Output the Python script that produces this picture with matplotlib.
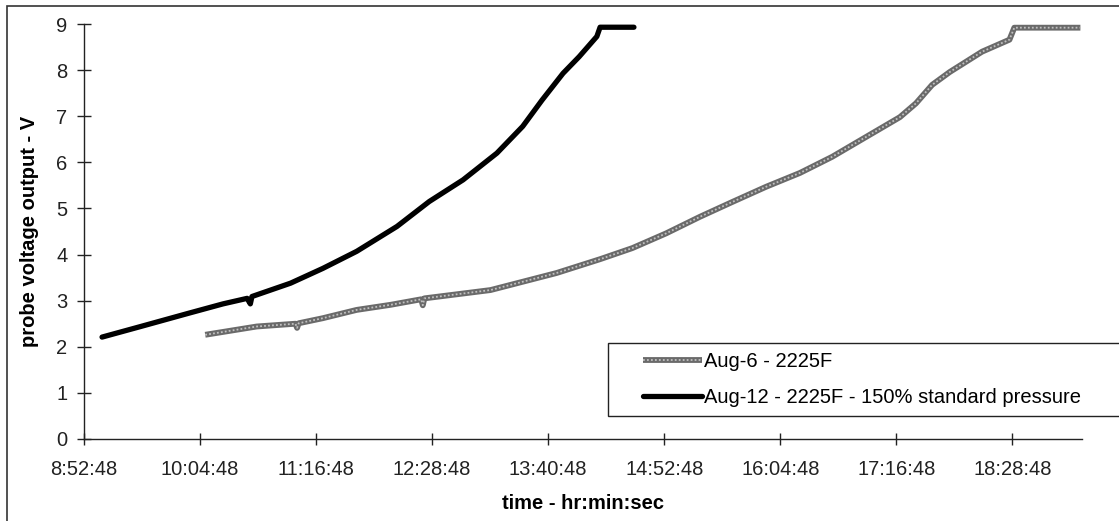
import numpy as np
import matplotlib
matplotlib.use("Agg")
from matplotlib import pyplot as plt
from matplotlib.patches import Rectangle
from matplotlib.ticker import FuncFormatter

plt.rcParams['font.family'] = ['Liberation Sans', 'DejaVu Sans']

# Aug-12 run (150% standard pressure), time of day and probe volts
Aug12_Time = ["9:04", "9:28", "9:58", "10:19", "10:34", "10:36", "10:37", "11:01",
              "11:21", "11:42", "12:07", "12:27", "12:48", "13:09", "13:25", "13:37",
              "13:50", "14:00", "14:11", "14:13", "14:34"]
Aug12_Volt = [2.21, 2.44, 2.73, 2.93, 3.05, 2.93, 3.09, 3.38,
              3.70, 4.07, 4.61, 5.15, 5.62, 6.20, 6.78, 7.35,
              7.93, 8.29, 8.73, 8.93, 8.93]

# Aug-6 run
Aug6_Time = ["10:08", "10:40", "11:04", "11:05", "11:06", "11:21", "11:42", "12:03",
             "12:22", "12:23", "12:24", "13:05", "13:46", "14:13", "14:33", "14:54",
             "15:15", "15:35", "15:56", "16:17", "16:37", "16:58", "17:19", "17:29",
             "17:39", "17:50", "18:00", "18:10", "18:27", "18:30", "19:11"]
Aug6_Volt = [2.26, 2.44, 2.50, 2.41, 2.51, 2.62, 2.80, 2.91,
             3.03, 2.90, 3.05, 3.23, 3.60, 3.90, 4.14, 4.46,
             4.82, 5.14, 5.47, 5.77, 6.12, 6.55, 6.98, 7.28,
             7.68, 7.96, 8.18, 8.40, 8.66, 8.92, 8.92]

Y_Ticks = list(range(0, 10))
X_Start = 8 + 52.8 / 60      # 8:52:48
X_Step = 1.2                 # 72 min
X_End = 19.2                 # 19:12:00


def To_Hours(Times):
    Out = []
    for T in Times:
        H, M = T.split(":")
        Out.append(int(H) + int(M) / 60)
    return np.array(Out)


def Hms(V, Pos=None):
    S = int(round(V * 3600))
    return "%d:%02d:%02d" % (S // 3600, (S % 3600) // 60, S % 60)


Fig = plt.figure(figsize=(11.19, 5.21), dpi=100)
Ax = Fig.add_axes([84 / 1119, 1 - 439 / 521, (1082 - 84) / 1119, (439 - 24) / 521])

# outer chart frame
Fig.patches.append(Rectangle((7 / 1119, -0.01), 1.02, 1 - 6 / 521 + 0.01,
                             transform=Fig.transFigure, fill=False,
                             edgecolor='#333333', lw=1.2))

G1, = Ax.plot(To_Hours(Aug6_Time), Aug6_Volt, color='#6a6a6a', lw=4.2,
              solid_capstyle='butt', solid_joinstyle='round', zorder=2)
G2, = Ax.plot(To_Hours(Aug6_Time), Aug6_Volt, color='#c0c0c0', lw=1.3,
              ls=(0, (1, 1.2)), zorder=3)
B1, = Ax.plot(To_Hours(Aug12_Time), Aug12_Volt, color='black', lw=3.8,
              solid_capstyle='round', solid_joinstyle='round', zorder=4)

Ax.set_xlim(X_Start, X_End)
Ax.set_ylim(0, 9)
Ax.set_yticks(Y_Ticks)
Ax.set_xticks(np.arange(X_Start, X_End - 0.5, X_Step))
Ax.xaxis.set_major_formatter(FuncFormatter(Hms))

for S in ['top', 'right']:
    Ax.spines[S].set_visible(False)
for S in ['left', 'bottom']:
    Ax.spines[S].set_linewidth(1.0)
    Ax.spines[S].set_color('#222222')

Ax.tick_params(direction='inout', width=1.0, labelsize=14.5, colors='#222222')
Ax.tick_params(axis='x', length=8, pad=11)
Ax.tick_params(axis='y', length=10, pad=7)

Ax.set_xlabel("time - hr:min:sec", fontsize=14.5, fontweight='bold', labelpad=11)
Ax.set_ylabel("probe voltage output - V", fontsize=14.5, fontweight='bold', labelpad=12)

# legend box
Fig.patches.append(Rectangle((608 / 1119, 1 - 416 / 521), 0.5, 73 / 521,
                             transform=Fig.transFigure, fill=True, facecolor='white',
                             edgecolor='#222222', lw=1.0, zorder=5))
Leg = Fig.legend([(G1, G2), B1], ["Aug-6 - 2225F", "Aug-12 - 2225F - 150% standard pressure"],
                 loc='upper left', bbox_to_anchor=(629 / 1119, 1 - 338 / 521),
                 frameon=False, fontsize=14.5, handlelength=2.9, handletextpad=0.1,
                 labelspacing=0.85, borderpad=0.2)
Leg.set_zorder(6)

Fig.savefig("out.png", dpi=100)
